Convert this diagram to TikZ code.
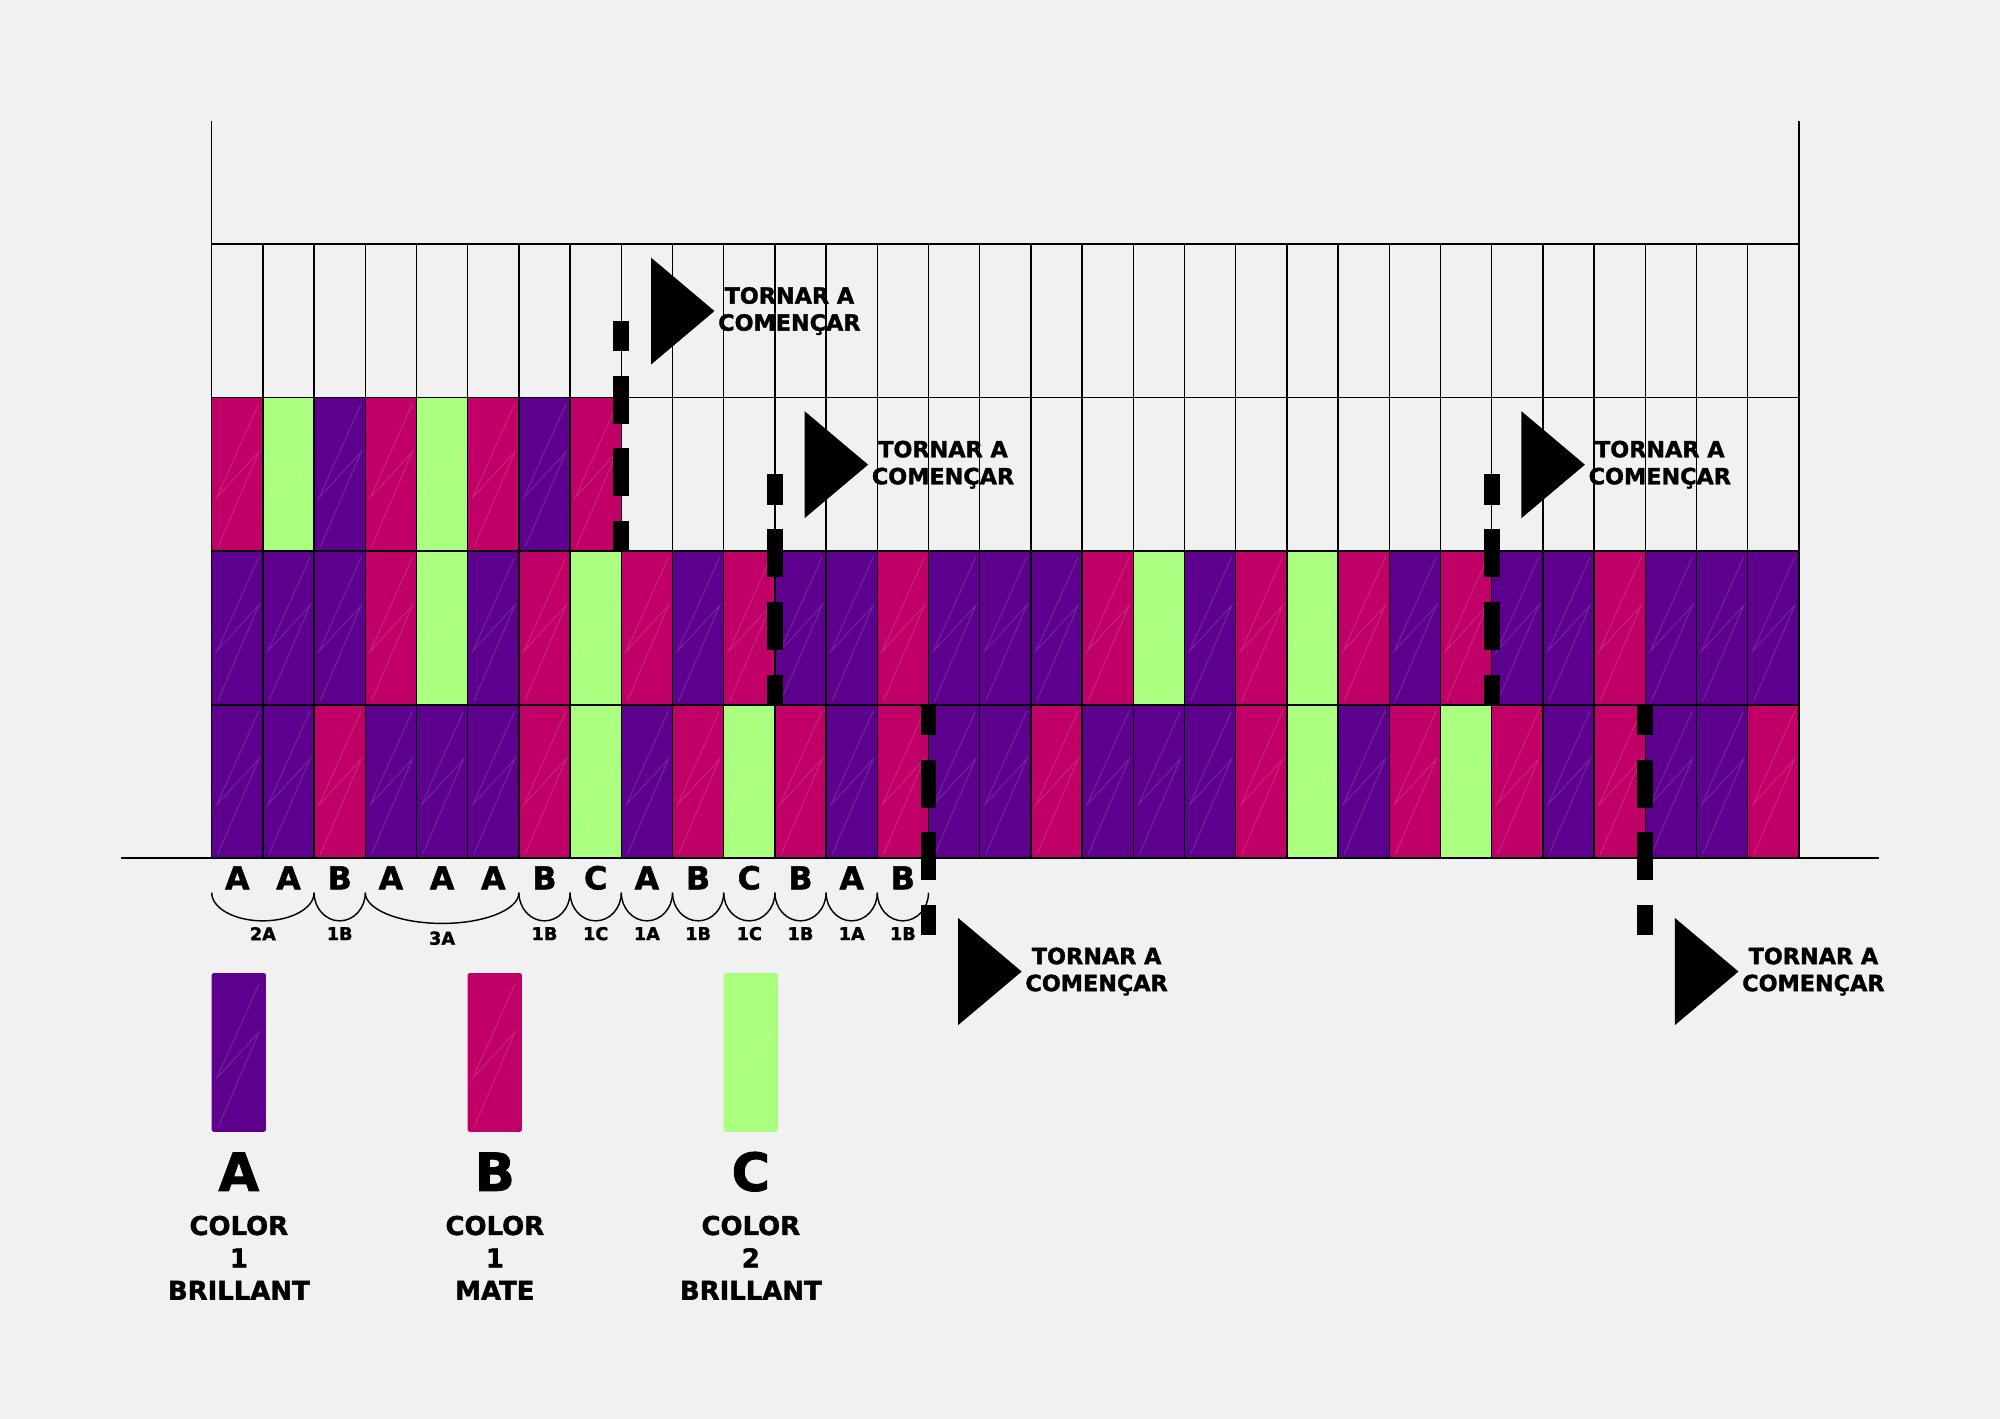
\documentclass[tikz,border=0pt]{standalone}
\usepackage{fontspec}
\setmainfont{DejaVu Sans}[BoldFeatures={FakeBold=1.6}]
\usepackage{tikz}
\usetikzlibrary{positioning}

\definecolor{paper}{RGB}{241,241,241}
\definecolor{colA}{RGB}{94,0,142}
\definecolor{colB}{RGB}{192,0,102}
\definecolor{colC}{RGB}{171,255,127}

\begin{document}
\begin{tikzpicture}[x=0.5cm, y=0.5cm,
		every node/.style={font=\bfseries, inner sep=0pt},
		shine/.style={white, opacity=0.13, line width=0.3pt},
		restart/.style={line width=4.4pt, dash pattern=on 13.36pt off 6.83pt, dash phase=4.96pt},
		flagtext/.style={align=center, font=\bfseries\fontsize{6.2}{7.5}\selectfont},
		letter/.style={font=\bfseries\fontsize{8.8}{10}\selectfont},
		count/.style={font=\bfseries\fontsize{4.9}{6}\selectfont},
		bigletter/.style={font=\bfseries\fontsize{14.6}{16}\selectfont},
		legend/.style={align=center, font=\bfseries\fontsize{7.2}{9}\selectfont}]
					\fill[paper] (-4.135,-10.949) rectangle (34.928,16.766);
					\useasboundingbox (-4.135,-10.949) rectangle (34.928,16.766);
					
					% bottom row
					\foreach \c [count=\i from 0] in {A,A,B,A,A,A,B,C,A,B,C,B,A,B,A,A,B,A,A,A,B,C,A,B,C,B,A,B,A,A,B} {
						\fill[fill=col\c] (\i,0) rectangle ++(1,3);
						\draw[shine, shift={(\i,0)}] (0.12,0.08) -- (0.92,1.94) -- (0.1,1.05) -- (0.92,2.88);
					}
					% middle row
					\foreach \c [count=\i from 0] in {A,A,A,B,C,A,B,C,B,A,B,A,A,B,A,A,A,B,C,A,B,C,B,A,B,A,A,B,A,A,A} {
						\fill[fill=col\c] (\i,3) rectangle ++(1,3);
						\draw[shine, shift={(\i,3)}] (0.12,0.08) -- (0.92,1.94) -- (0.1,1.05) -- (0.92,2.88);
					}
					% top row (partly filled)
					\foreach \c [count=\i from 0] in {B,C,A,B,C,B,A,B} {
						\fill[fill=col\c] (\i,6) rectangle ++(1,3);
						\draw[shine, shift={(\i,6)}] (0.12,0.08) -- (0.92,1.94) -- (0.1,1.05) -- (0.92,2.88);
					}
					
					\draw[line width=0.4pt, xstep=1, ystep=3] (0,0) grid (31,12);
					\draw[line width=0.4pt] (0,12) -- (0,14.4);
					\draw[line width=0.4pt] (31,12) -- (31,14.4);
					\draw[line width=0.6pt] (-1.77,0) -- (32.56,0);
					
					% letters and counts under the first repeat
					\foreach \c [count=\i from 0] in {A,A,B,A,A,A,B,C,A,B,C,B,A,B}
						\node[letter] (l\i) at (\i+0.5,-0.38) {\c};
					
					\draw[line width=0.4pt] (0,-0.67) arc[start angle=180, end angle=360, x radius=1, y radius=0.55];
					\draw[line width=0.4pt] (2,-0.67) arc[start angle=180, end angle=360, x radius=0.5, y radius=0.55];
					\draw[line width=0.4pt] (3,-0.67) arc[start angle=180, end angle=360, x radius=1.5, y radius=0.6];
					\foreach \i in {6,...,13}
						\draw[line width=0.4pt] (\i,-0.67) arc[start angle=180, end angle=360, x radius=0.5, y radius=0.55];
					
					\node[count] (n2A) at (1,-1.47) {2A};
					\node[count] (n1B) at (2.5,-1.47) {1B};
					\node[count] (n3A) at (4.5,-1.56) {3A};
					\foreach \t [count=\i from 6] in {1B,1C,1A,1B,1C,1B,1A,1B}
						\node[count] (n\i) at (\i+0.5,-1.47) {\t};
					
					% restart marks
					\foreach \x/\t/\y [count=\k] in {8/10.5/10.69, 11/7.5/7.69, 25/7.5/7.69, 14/3/-2.21, 28/3/-2.21} {
						\draw[restart] (\x,\t) -- (\x,\t-4.5);
						\coordinate (tip\k) at (\x+1.82,\y);
						\fill (\x+0.58,\y+1.045) -- (tip\k) -- (\x+0.58,\y-1.045) -- cycle;
						\node[flagtext, right=0.3mm of tip\k] (msg\k) {TORNAR A\\COMENÇAR};
					}
					
					% legend
					\foreach \c/\n/\s [count=\k from 0] in {A/1/BRILLANT, B/1/MATE, C/2/BRILLANT} {
						\fill[fill=col\c, rounded corners=0.6pt] (5*\k,-2.24) rectangle ++(1.06,-3.1);
						\draw[shine, shift={(5*\k,-5.34)}] (0.12,0.08) -- (0.92,1.94) -- (0.1,1.05) -- (0.92,2.88);
						\node[bigletter] (key\c) at (5*\k+0.53,-6.12) {\c};
						\node[legend] (txt\c) at (5*\k+0.53,-7.8) {COLOR\\\n\\\s};
					}
				\end{tikzpicture}
\end{document}
